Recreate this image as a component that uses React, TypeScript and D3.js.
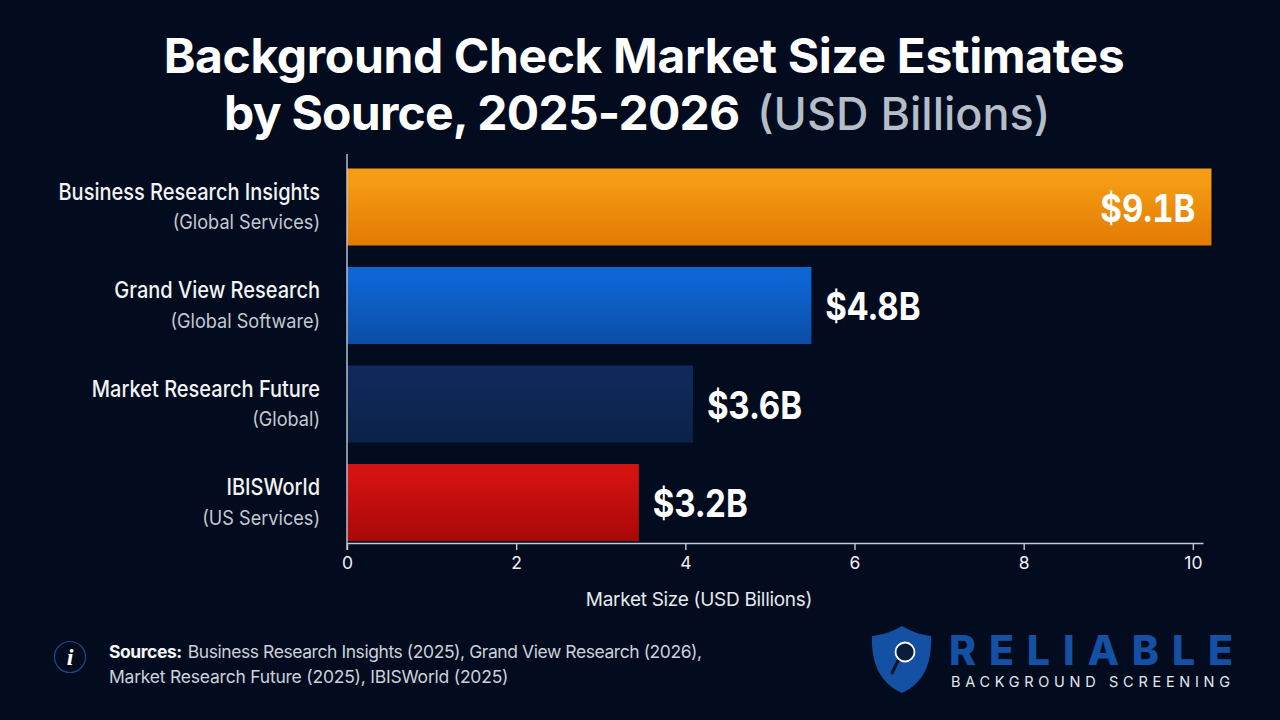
import React, { useEffect, useRef } from "react";
import * as d3 from "d3";

const sources = [
  "Business Research Insights",
  "Grand View Research",
  "Market Research Future",
  "IBISWorld",
];
const scopes = [
  "(Global Services)",
  "(Global Software)",
  "(Global)",
  "(US Services)",
];
// bar lengths
const barValues = [10.22, 5.49, 4.09, 3.45];
// what the chart prints next to each bar
const valueLabels = ["$9.1B", "$4.8B", "$3.6B", "$3.2B"];
const xTicks = [0, 2, 4, 6, 8, 10];
const barColors = [
  ["#f59c14", "#e27a02"],
  ["#0d66d4", "#0b4ea6"],
  ["#0f2a5a", "#0b2148"],
  ["#d41212", "#a80808"],
];

const FONT = "Inter, 'Noto Sans', sans-serif";
const BG = "#020c1e";

const xScale = d3.scaleLinear().domain([0, 10.12]).range([347, 1203]);
const yScale = d3
  .scaleBand<string>()
  .domain(sources)
  .range([157.75, 551.75])
  .paddingInner(0.218)
  .paddingOuter(0.109);

function XAxis() {
  const ref = useRef<SVGGElement>(null);
  useEffect(() => {
    const g = d3.select(ref.current!);
    g.call(
      d3
        .axisBottom(xScale)
        .tickValues(xTicks)
        .tickSize(7)
        .tickPadding(7)
        .tickSizeOuter(0),
    );
    g.selectAll("line,path").attr("stroke", "#c4cad4").attr("stroke-width", 1.4);
    g.selectAll("text")
      .attr("fill", "#eef1f5")
      .attr("font-family", FONT)
      .attr("font-size", 17.5);
  }, []);
  return <g ref={ref} transform="translate(0,543)" />;
}

function Logo() {
  return (
    <g>
      <path
        d="M902 626 C912 632 922 635 931 636 C932 660 926 682 902 693 C878 682 871 660 872 636 C882 635 892 632 902 626 Z"
        fill="#1450a3"
      />
      <line x1="899" y1="659" x2="892" y2="673" stroke="#06132b" strokeWidth={3} strokeLinecap="round" />
      <circle cx="905" cy="652" r="9.5" fill="#0a1e3c" stroke="#ffffff" strokeWidth={1.8} />
      <text
        x={949}
        y={665}
        fontFamily={FONT}
        fontWeight={800}
        fontSize={41}
        fill="#1450a3"
        textLength={284}
        lengthAdjust="spacing"
      >
        RELIABLE
      </text>
      <text
        x={951}
        y={687}
        fontFamily={FONT}
        fontWeight={400}
        fontSize={14.5}
        fill="#e3e8f0"
        textLength={279}
        lengthAdjust="spacing"
      >
        BACKGROUND SCREENING
      </text>
    </g>
  );
}

export default function App() {
  useEffect(() => {
    document.body.style.margin = "0";
    document.body.style.background = BG;
  }, []);

  return (
    <svg width={1280} height={720} style={{ display: "block" }} fontFamily={FONT}>
      <defs>
        {barColors.map((c, i) => (
          <linearGradient key={i} id={`bar-${i}`} x1="0" x2="0" y1="0" y2="1">
            <stop offset="15%" stopColor={c[0]} />
            <stop offset="100%" stopColor={c[1]} />
          </linearGradient>
        ))}
      </defs>
      <rect width={1280} height={720} fill={BG} />

      <text x={644} y={73} textAnchor="middle" fontSize={48} fontWeight={700} fill="#ffffff" letterSpacing={-0.37}>
        Background Check Market Size Estimates
      </text>
      <text x={224} y={129.5} fontSize={48} fontWeight={700} fill="#ffffff" letterSpacing={-0.75}>
        by Source, 2025-2026
      </text>
      <text x={757} y={129.5} fontSize={45} fontWeight={500} fill="#b5bdc9">
        (USD Billions)
      </text>

      {/* bars */}
      {sources.map((s, i) => (
        <rect
          key={s}
          x={xScale(0)}
          y={yScale(s)}
          width={xScale(barValues[i]) - xScale(0)}
          height={yScale.bandwidth()}
          fill={`url(#bar-${i})`}
        />
      ))}

      {/* category labels, squeezed: the original face is narrower than Inter */}
      {sources.map((s, i) => {
        const cy = yScale(s)! + yScale.bandwidth() / 2;
        return (
          <g key={s} textAnchor="end">
            <text
              transform={`translate(320,${cy - 7.5}) scale(0.87,1)`}
              fontSize={23}
              fontWeight={500}
              fill="#f2f4f7"
            >
              {s}
            </text>
            <text
              transform={`translate(320,${cy + 22}) scale(0.93,1)`}
              fontSize={19.5}
              fill="#c3cad4"
            >
              {scopes[i]}
            </text>
          </g>
        );
      })}

      {/* value labels */}
      {sources.map((s, i) => {
        const cy = yScale(s)! + yScale.bandwidth() / 2;
        const inside = i === 0;
        const x = xScale(barValues[i]) + (inside ? -16 : 14);
        return (
          <text
            key={s}
            transform={`translate(${x},${cy + 14.5}) scale(0.87,1)`}
            textAnchor={inside ? "end" : "start"}
            fontSize={38}
            fontWeight={700}
            fill="#ffffff"
            style={{ fontVariantNumeric: "tabular-nums" }}
          >
            {valueLabels[i]}
          </text>
        );
      })}

      <line x1={xScale(0)} x2={xScale(0)} y1={154} y2={550} stroke="#c4cad4" strokeWidth={1.4} />
      <XAxis />
      <text x={699} y={606} textAnchor="middle" fontSize={19} fill="#e6e9ee" letterSpacing={-0.3}>
        Market Size (USD Billions)
      </text>

      {/* sources note */}
      <circle cx={70} cy={657} r={15.5} fill="none" stroke="#1a4a8f" strokeWidth={1.2} />
      <text x={70} y={665} textAnchor="middle" fontFamily="'Liberation Serif', serif" fontStyle="italic" fontWeight={700} fontSize={24} fill="#ffffff">
        i
      </text>
      <text x={109} y={658} fontSize={17.5} fill="#ccd2db" letterSpacing={-0.43}>
        <tspan fontWeight={700} fill="#f4f6f8">Sources:</tspan>
        <tspan dx={6}>Business Research Insights (2025), Grand View Research (2026),</tspan>
      </text>
      <text x={109} y={683} fontSize={17.5} fill="#ccd2db" letterSpacing={-0.22}>
        Market Research Future (2025), IBISWorld (2025)
      </text>

      <Logo />
    </svg>
  );
}
